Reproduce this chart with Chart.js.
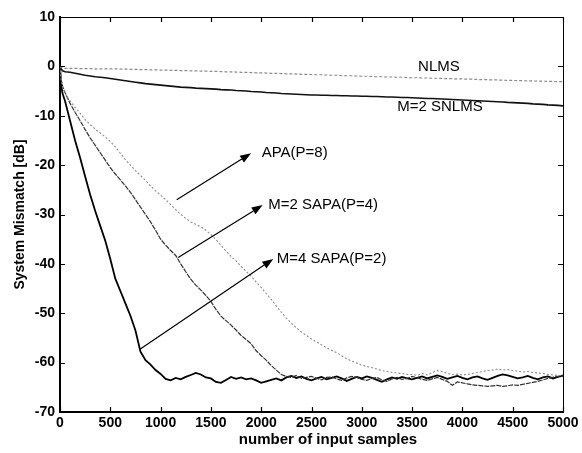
<!DOCTYPE html>
<html>
<head>
<meta charset="utf-8">
<title>System mismatch</title>
<script src="https://cdn.jsdelivr.net/npm/chart.js@4/dist/chart.umd.min.js"></script>
<style>
  html, body { margin: 0; padding: 0; background: #fff; }
  canvas { display: block; }
</style>
</head>
<body>
<canvas id="mismatch" width="582" height="453"></canvas>
<script>
// sample index (x) shared by every curve
const samples = [0, 10, 25, 50,
  100, 150, 200, 250, 300, 350, 400, 450, 500,
  550, 600, 650, 700, 750, 800, 850, 900, 950, 1000,
  1050, 1100, 1150, 1200, 1250, 1300, 1350, 1400, 1450, 1500,
  1550, 1600, 1650, 1700, 1750, 1800, 1850, 1900, 1950, 2000,
  2050, 2100, 2150, 2200, 2250, 2300, 2350, 2400, 2450, 2500,
  2550, 2600, 2650, 2700, 2750, 2800, 2850, 2900, 2950, 3000,
  3050, 3100, 3150, 3200, 3250, 3300, 3350, 3400, 3450, 3500,
  3550, 3600, 3650, 3700, 3750, 3800, 3850, 3900, 3950, 4000,
  4050, 4100, 4150, 4200, 4250, 4300, 4350, 4400, 4450, 4500,
  4550, 4600, 4650, 4700, 4750, 4800, 4850, 4900, 4950, 5000];

// system mismatch in dB
const nlms = [0, -0.2, -0.3, -0.4,
  -0.4, -0.4, -0.45, -0.45, -0.45, -0.5, -0.5, -0.5, -0.5,
  -0.5, -0.55, -0.55, -0.6, -0.6, -0.65, -0.65, -0.7, -0.7, -0.75,
  -0.75, -0.8, -0.8, -0.85, -0.85, -0.9, -0.9, -0.95, -0.95, -1.0,
  -1.0, -1.05, -1.1, -1.1, -1.15, -1.2, -1.2, -1.25, -1.3, -1.3,
  -1.35, -1.4, -1.4, -1.45, -1.5, -1.5, -1.55, -1.6, -1.6, -1.65,
  -1.7, -1.7, -1.75, -1.8, -1.8, -1.85, -1.9, -1.9, -1.95, -2.0,
  -2.0, -2.05, -2.1, -2.1, -2.15, -2.15, -2.2, -2.2, -2.25, -2.3,
  -2.3, -2.35, -2.35, -2.4, -2.4, -2.45, -2.5, -2.5, -2.55, -2.55,
  -2.6, -2.6, -2.65, -2.7, -2.7, -2.75, -2.75, -2.8, -2.85, -2.85,
  -2.9, -2.9, -2.95, -2.95, -3.0, -3.0, -3.05, -3.05, -3.1, -3.1];

const snlmsM2 = [0, -0.5, -0.9, -1.1,
  -1.2, -1.4, -1.6, -1.8, -1.95, -2.1, -2.2, -2.3, -2.45,
  -2.6, -2.75, -2.9, -3.05, -3.2, -3.35, -3.5, -3.6, -3.7, -3.8,
  -3.9, -4.0, -4.1, -4.2, -4.25, -4.3, -4.4, -4.45, -4.5, -4.55,
  -4.6, -4.7, -4.75, -4.8, -4.9, -4.95, -5.0, -5.1, -5.15, -5.2,
  -5.3, -5.35, -5.4, -5.5, -5.55, -5.6, -5.65, -5.7, -5.75, -5.8,
  -5.8, -5.85, -5.85, -5.9, -5.9, -5.95, -5.95, -6.0, -6.0, -6.05,
  -6.05, -6.1, -6.1, -6.15, -6.2, -6.2, -6.25, -6.3, -6.3, -6.35,
  -6.4, -6.45, -6.5, -6.5, -6.55, -6.6, -6.65, -6.7, -6.75, -6.8,
  -6.85, -6.9, -6.95, -7.0, -7.05, -7.1, -7.15, -7.2, -7.3, -7.35,
  -7.4, -7.45, -7.5, -7.6, -7.65, -7.7, -7.8, -7.85, -7.9, -8.0];

const apaP8 = [0, -2.5, -4.0, -5.5,
  -7.0, -8.3, -9.5, -10.8, -11.8, -12.7, -13.5, -14.3, -15.2,
  -16.3, -17.6, -18.9, -20.0, -21.1, -22.1, -23.1, -24.2, -25.2, -26.1,
  -27.0, -28.0, -29.0, -30.0, -30.8, -31.5, -32.0, -32.5, -33.2, -34.0,
  -35.1, -36.2, -37.4, -38.5, -39.4, -40.5, -41.5, -42.5, -43.7, -44.8,
  -46.0, -47.2, -48.5, -49.8, -51.0, -52.0, -53.0, -53.8, -54.5, -55.2,
  -55.8, -56.4, -57.0, -57.5, -58.0, -58.6, -59.2, -59.7, -60.1, -60.5,
  -60.8, -61.0, -61.3, -61.6, -61.8, -62.0, -62.1, -62.2, -62.4, -62.4,
  -62.6, -62.2, -62.5, -62.0, -61.6, -61.8, -62.2, -62.4, -62.3, -62.5,
  -62.4, -62.2, -62.0, -61.8, -61.6, -61.5, -61.3, -61.5, -61.4, -61.6,
  -61.7, -61.9, -61.8, -62.0, -62.1, -62.2, -62.4, -62.5, -62.6, -62.6];

const sapaM2P4 = [0, -2.5, -4.0, -5.3,
  -7.5, -9.3, -11.0, -12.8, -14.5, -16.0, -17.5, -19.0, -20.5,
  -21.8, -23.0, -24.2, -25.5, -27.0, -28.5, -30.0, -31.5, -33.2, -35.0,
  -36.2, -37.3, -38.3, -40.0, -41.6, -43.1, -44.3, -45.3, -46.4, -47.6,
  -49.2, -50.6, -51.5, -52.4, -53.4, -54.5, -55.3, -56.2, -57.6, -58.6,
  -59.5, -60.6, -61.5, -62.4, -62.8, -63.0, -62.6, -63.2, -63.0, -62.8,
  -63.2, -63.5, -63.0, -62.9, -63.3, -63.6, -63.1, -62.8, -63.0, -63.4,
  -63.6, -63.2, -63.0, -63.5, -63.8, -63.3, -63.0, -63.4, -63.2, -62.8,
  -63.1, -63.4, -63.6, -63.3, -63.0, -63.4, -63.8, -64.6, -63.9, -64.1,
  -64.3, -64.5, -64.6, -64.7, -64.8, -64.7, -64.6, -64.8, -64.7, -64.5,
  -64.6, -64.4, -64.2, -64.0, -63.8, -63.5, -63.2, -63.0, -62.8, -62.7];

const sapaM4P2 = [0, -3.5, -5.5, -7.0,
  -11.0, -15.0, -18.5, -22.3, -26.0, -29.3, -32.3, -35.3, -39.0,
  -43.0, -45.5, -48.0, -50.5, -53.5, -57.8, -59.5, -60.4, -61.5, -62.3,
  -63.3, -63.6, -63.1, -63.4, -62.9, -62.5, -62.1, -62.4, -63.0, -63.2,
  -63.9, -64.1, -63.5, -62.9, -63.3, -63.0, -63.4, -63.2, -63.6, -64.1,
  -63.8, -63.5, -63.2, -63.6, -63.0, -62.7, -63.1, -62.8, -63.3, -63.6,
  -63.2, -62.9, -63.4, -63.1, -62.8, -63.2, -63.7, -63.3, -62.9, -63.2,
  -62.8, -63.1, -63.5, -63.9, -63.4, -63.0, -63.3, -62.9, -63.2, -63.4,
  -63.1, -62.8, -63.2, -62.9, -62.6, -62.9, -63.3, -63.0, -62.7, -63.1,
  -63.4, -63.0, -62.8, -63.2, -63.5, -63.1, -62.7, -62.4, -62.6, -62.9,
  -63.2, -63.0, -62.7, -63.1, -63.4, -63.0, -62.8, -63.2, -62.9, -62.6];

// axis ticks
const xTicks = [0, 500, 1000, 1500, 2000, 2500, 3000, 3500, 4000, 4500, 5000];
const yTicks = [10, 0, -10, -20, -30, -40, -50, -60, -70];

// curve labels: plain text, and arrow labels (tail on the curve, head at text)
const plainLabels = ['NLMS', 'M=2 SNLMS'];
const plainLabelAt = [[3767, 0], [3777, -8.2]];
const arrowLabels = ['APA(P=8)', 'M=2 SAPA(P=4)', 'M=4 SAPA(P=2)'];
const arrowTail = [[1160, -27.0], [1175, -38.7], [795, -57.3]];
const arrowHead = [[1900, -17.6], [2015, -28.1], [2120, -39.0]];
const arrowLabelAt = [[2005, -17.6], [2071, -28.1], [2154, -39.0]];

const LABEL_FONT = '15px "Liberation Sans", Arial, sans-serif';

function toPoints(values) {
  return samples.map((x, i) => ({ x: x, y: values[i] }));
}

// frame, inward ticks, axis titles and curve annotations
const decorations = {
  id: 'decorations',
  afterDraw(chart) {
    const { ctx, chartArea: a, scales } = chart;
    const xs = scales.x, ys = scales.y;
    ctx.save();

    ctx.strokeStyle = '#000';
    ctx.lineWidth = 1;
    ctx.beginPath();
    ctx.moveTo(a.left, a.top + 0.5);
    ctx.lineTo(a.right + 0.5, a.top + 0.5);
    ctx.lineTo(a.right + 0.5, a.bottom);
    ctx.stroke();

    ctx.lineWidth = 1.2;
    ctx.beginPath();
    xTicks.forEach(v => {
      const px = Math.round(xs.getPixelForValue(v)) + 0.5;
      ctx.moveTo(px, a.bottom); ctx.lineTo(px, a.bottom - 5);
      ctx.moveTo(px, a.top); ctx.lineTo(px, a.top + 5);
    });
    yTicks.forEach(v => {
      const py = Math.round(ys.getPixelForValue(v)) + 0.5;
      ctx.moveTo(a.left, py); ctx.lineTo(a.left + 5, py);
      ctx.moveTo(a.right, py); ctx.lineTo(a.right - 5, py);
    });
    ctx.stroke();

    // axis titles
    ctx.fillStyle = '#000';
    ctx.textAlign = 'center';
    ctx.textBaseline = 'middle';
    ctx.font = 'bold 15px "Liberation Sans", Arial, sans-serif';
    ctx.fillText('number of input samples', 328, 440);
    ctx.save();
    ctx.translate(20, (a.top + a.bottom) / 2);
    ctx.rotate(-Math.PI / 2);
    ctx.font = 'bold 14px "Liberation Sans", Arial, sans-serif';
    ctx.fillText('System Mismatch [dB]', 0, 0);
    ctx.restore();

    ctx.font = LABEL_FONT;
    plainLabels.forEach((t, i) => {
      ctx.fillText(t, xs.getPixelForValue(plainLabelAt[i][0]), ys.getPixelForValue(plainLabelAt[i][1]));
    });

    ctx.textAlign = 'left';
    ctx.lineWidth = 1.2;
    arrowLabels.forEach((t, i) => {
      const x0 = xs.getPixelForValue(arrowTail[i][0]), y0 = ys.getPixelForValue(arrowTail[i][1]);
      const x1 = xs.getPixelForValue(arrowHead[i][0]), y1 = ys.getPixelForValue(arrowHead[i][1]);
      const ang = Math.atan2(y1 - y0, x1 - x0);
      const len = 11, half = 4;
      const bx = x1 - len * Math.cos(ang), by = y1 - len * Math.sin(ang);
      ctx.beginPath();
      ctx.moveTo(x0, y0); ctx.lineTo(bx, by);
      ctx.stroke();
      ctx.beginPath();
      ctx.moveTo(x1, y1);
      ctx.lineTo(bx + half * Math.sin(ang), by - half * Math.cos(ang));
      ctx.lineTo(bx - half * Math.sin(ang), by + half * Math.cos(ang));
      ctx.closePath();
      ctx.fill();
      ctx.fillText(t, xs.getPixelForValue(arrowLabelAt[i][0]), ys.getPixelForValue(arrowLabelAt[i][1]));
    });

    ctx.restore();
  }
};

const tickFont = { family: '"Liberation Sans", Arial, sans-serif', size: 14, weight: 'bold' };

new Chart(document.getElementById('mismatch'), {
  type: 'line',
  data: {
    datasets: [
      { label: 'NLMS', data: toPoints(nlms), borderColor: '#8c8c8c', borderWidth: 1.2, borderDash: [3, 2] },
      { label: 'APA(P=8)', data: toPoints(apaP8), borderColor: '#8a8a8a', borderWidth: 1.1, borderDash: [2, 2] },
      { label: 'M=2 SNLMS', data: toPoints(snlmsM2), borderColor: '#111', borderWidth: 1.6 },
      { label: 'M=2 SAPA(P=4)', data: toPoints(sapaM2P4), borderColor: '#333', borderWidth: 1.2, borderDash: [5, 1] },
      { label: 'M=4 SAPA(P=2)', data: toPoints(sapaM4P2), borderColor: '#000', borderWidth: 1.8 }
    ]
  },
  options: {
    responsive: false,
    animation: false,
    devicePixelRatio: 1,
    layout: { padding: { left: 0, top: 17, right: 19, bottom: 0 } },
    elements: { point: { radius: 0 }, line: { tension: 0 } },
    plugins: { legend: { display: false }, tooltip: { enabled: false } },
    scales: {
      x: {
        type: 'linear', min: 0, max: 5000,
        afterBuildTicks: s => { s.ticks = xTicks.map(v => ({ value: v })); },
        afterFit: s => { s.height = 41; },
        ticks: { color: '#000', font: tickFont, padding: 3, maxRotation: 0, autoSkip: false, callback: v => String(v) },
        grid: { display: false, drawTicks: false },
        border: { display: true, color: '#000', width: 2 }
      },
      y: {
        type: 'linear', min: -70, max: 10,
        afterBuildTicks: s => { s.ticks = yTicks.map(v => ({ value: v })); },
        afterFit: s => { s.width = 60; },
        ticks: { color: '#000', font: tickFont, padding: 5, autoSkip: false, callback: v => String(v) },
        grid: { display: false, drawTicks: false },
        border: { display: true, color: '#000', width: 2 }
      }
    }
  },
  plugins: [decorations]
});
</script>
</body>
</html>
